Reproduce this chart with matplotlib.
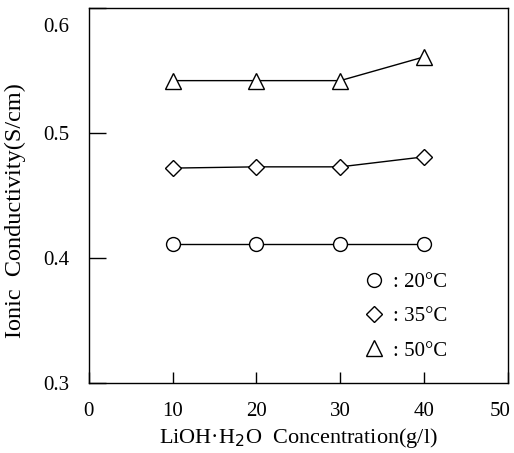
import matplotlib
matplotlib.use("Agg")
import matplotlib.pyplot as plt
from matplotlib.lines import Line2D
import matplotlib.transforms as mtransforms

plt.rcParams['font.family'] = ['Liberation Serif', 'DejaVu Serif']

conc = [10, 20, 30, 40]
t20 = [0.411, 0.411, 0.411, 0.411]
t35 = [0.472, 0.473, 0.473, 0.481]
t50 = [0.542, 0.542, 0.542, 0.561]
labels = [': 20°C', ': 35°C', ': 50°C']
xticks = [0, 10, 20, 30, 40, 50]
yticks = [0.3, 0.4, 0.5, 0.6]

fig = plt.figure(figsize=(5.14, 4.53), dpi=100)
ax = fig.add_axes([0.173, 0.1545, 0.815, 0.8275])

kw = dict(color='black', lw=1.0, mfc='white', mec='black', mew=1.0)
ax.plot(conc, t20, marker='o', ms=10, **kw)
ax.plot(conc, t35, marker='D', ms=8, **kw)
ax.plot(conc, t50, marker='^', ms=12, **kw)

ax.set_xlim(0, 50)
ax.set_ylim(0.3, 0.6)
ax.set_xticks(xticks)
ax.set_yticks(yticks)
ax.set_yticklabels([f'{v:.1f}' for v in yticks])
ax.tick_params(axis='x', direction='in', length=8, width=1, labelsize=15, pad=14)
ax.tick_params(axis='y', direction='in', length=12, width=1, labelsize=15, pad=14)
for s in ax.spines.values():
    s.set_linewidth(1.0)

ax.set_xlabel('LiOH·H$_2$O  Concentration(g/l)', fontsize=16, labelpad=3)
ax.set_ylabel('Ionic  Conductivity(S/cm)', fontsize=17.5)
ax.yaxis.set_label_coords(-0.15, 0.46)

# shift 0.6 label down and 50 label left as in reference
lbl = ax.get_yticklabels()[-1]
lbl.set_transform(lbl.get_transform() + mtransforms.ScaledTranslation(0, -0.17, fig.dpi_scale_trans))
xl = ax.get_xticklabels()[-1]
xl.set_transform(xl.get_transform() + mtransforms.ScaledTranslation(-0.08, 0, fig.dpi_scale_trans))

handles = [
    Line2D([], [], ls='none', marker='o', ms=10, mfc='white', mec='black'),
    Line2D([], [], ls='none', marker='D', ms=8, mfc='white', mec='black'),
    Line2D([], [], ls='none', marker='^', ms=12, mfc='white', mec='black'),
]
ax.legend(handles, labels, loc='lower left', bbox_to_anchor=(0.607, 0.01),
          frameon=False, fontsize=15, handlelength=1.2, handletextpad=0.3,
          labelspacing=0.7)

fig.savefig('out.png', dpi=100)
